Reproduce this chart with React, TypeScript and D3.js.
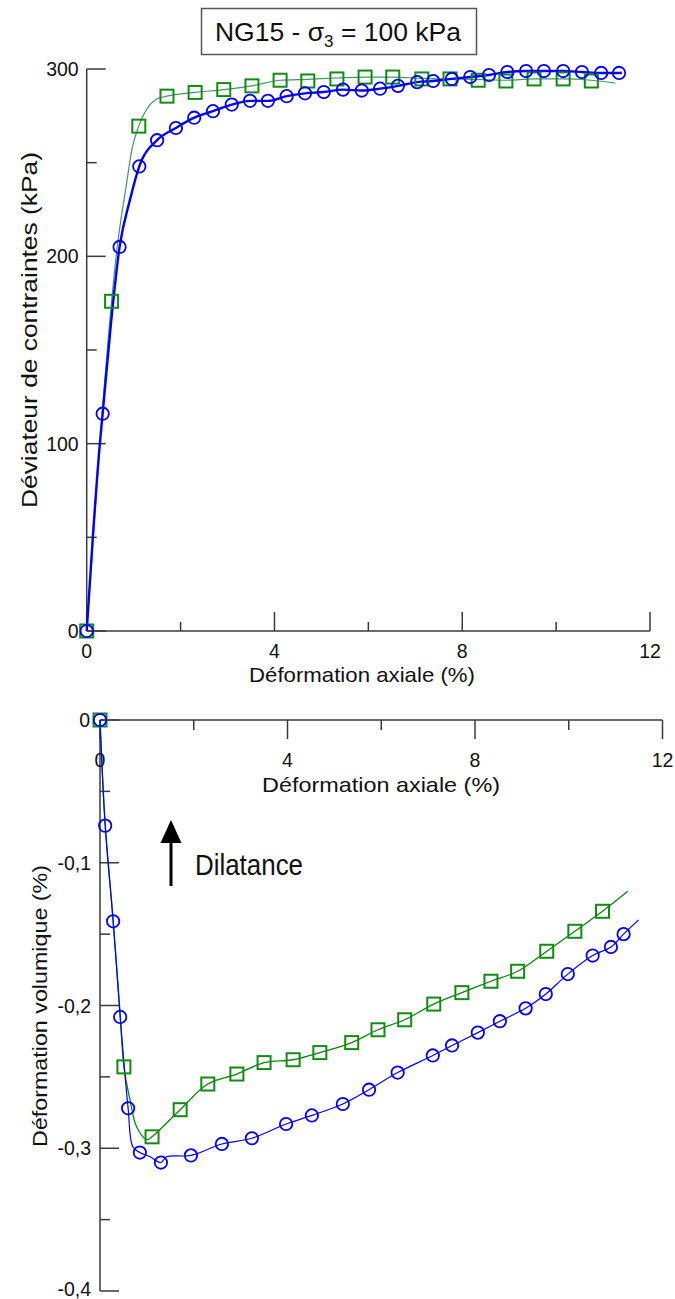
import React from "react";
import * as d3 from "d3";

// ---------- Top chart: deviator stress (kPa) vs axial strain (%) ----------
const topBlueMarkX = [0, 0.34, 0.70, 1.12, 1.50, 1.90, 2.29, 2.69, 3.09, 3.48, 3.86, 4.26, 4.65, 5.05, 5.46, 5.86, 6.25, 6.63, 7.04, 7.38, 7.78, 8.17, 8.57, 8.96, 9.36, 9.74, 10.15, 10.55, 10.96, 11.34];
const topBlueMarkY = [0, 116, 205, 248, 262, 268.5, 274, 277.5, 281, 283, 283, 285.5, 287, 287.7, 289, 288.5, 289.5, 291, 293, 293.6, 294.7, 295.7, 296.8, 298.4, 298.9, 298.9, 298.9, 298.4, 297.9, 297.9];
const topBlueLineX = [0, 0.13, 0.28, 0.34, 0.52, 0.70, 0.92, 1.12, 1.50, 1.90, 2.29, 2.69, 3.09, 3.48, 3.86, 4.26, 4.65, 5.05, 5.46, 5.86, 6.25, 6.63, 7.04, 7.38, 7.78, 8.17, 8.57, 8.96, 9.36, 9.74, 10.15, 10.55, 10.96, 11.34, 11.40];
const topBlueLineY = [0, 50, 100, 116, 165, 205, 230, 248, 262, 268.5, 274, 277.5, 281, 283, 283, 285.5, 287, 287.7, 289, 288.5, 289.5, 291, 293, 293.6, 294.7, 295.7, 296.8, 298.4, 298.9, 298.9, 298.9, 298.4, 297.9, 297.9, 298];

const topGreenMarkX = [0, 0.53, 1.11, 1.71, 2.31, 2.92, 3.52, 4.12, 4.71, 5.33, 5.93, 6.52, 7.14, 7.74, 8.34, 8.93, 9.53, 10.15, 10.75];
const topGreenMarkY = [0, 176, 269.5, 285.5, 287.5, 289, 291, 294, 293.6, 294.7, 295.7, 295.7, 294.7, 294.7, 294, 293.6, 294.7, 294.7, 293.6];
const topGreenLineX = [0, 0.28, 0.53, 0.64, 0.85, 0.96, 1.11, 1.34, 1.49, 1.71, 2.31, 2.92, 3.52, 4.12, 4.71, 5.33, 5.93, 6.52, 7.14, 7.74, 8.34, 8.93, 9.53, 10.15, 10.75, 11.26];
const topGreenLineY = [0, 100, 176, 203, 239, 256.7, 269.5, 280.7, 284, 285.5, 287.5, 289, 291, 294, 294.5, 295.2, 295.7, 295.7, 295, 294.7, 294.5, 294, 294.7, 294.7, 294, 292.5];

const topXTicks = [0, 4, 8, 12];
const topXMinor = [2, 6, 10];
const topYTicks = [0, 100, 200, 300];
const topYMinor = [50, 150, 250];

// ---------- Bottom chart: volumetric strain (%) vs axial strain (%) ----------
const botBlueMarkX = [0, 0.11, 0.28, 0.43, 0.60, 0.85, 1.30, 1.94, 2.60, 3.24, 3.97, 4.52, 5.18, 5.74, 6.35, 7.10, 7.51, 8.06, 8.53, 9.08, 9.51, 9.98, 10.51, 10.90, 11.17];
const botBlueMarkY = [0, -0.074, -0.141, -0.208, -0.272, -0.303, -0.310, -0.305, -0.297, -0.293, -0.283, -0.277, -0.269, -0.259, -0.247, -0.235, -0.228, -0.219, -0.211, -0.202, -0.192, -0.178, -0.165, -0.159, -0.150];
const botBlueLineX = [0, 0.11, 0.28, 0.43, 0.60, 0.70, 0.85, 1.07, 1.30, 1.42, 1.94, 2.60, 3.24, 3.97, 4.52, 5.18, 5.74, 6.35, 7.10, 7.51, 8.06, 8.53, 9.08, 9.51, 9.98, 10.51, 10.90, 11.17, 11.49];
const botBlueLineY = [0, -0.074, -0.141, -0.208, -0.272, -0.299, -0.303, -0.306, -0.310, -0.306, -0.305, -0.297, -0.293, -0.283, -0.277, -0.269, -0.259, -0.247, -0.235, -0.228, -0.219, -0.211, -0.202, -0.192, -0.178, -0.165, -0.159, -0.150, -0.140];

const botGreenMarkX = [0, 0.51, 1.11, 1.71, 2.30, 2.92, 3.50, 4.12, 4.69, 5.37, 5.93, 6.50, 7.12, 7.72, 8.34, 8.91, 9.53, 10.13, 10.72];
const botGreenMarkY = [0, -0.243, -0.292, -0.273, -0.255, -0.248, -0.240, -0.238, -0.233, -0.226, -0.217, -0.210, -0.199, -0.191, -0.183, -0.176, -0.162, -0.148, -0.134];
const botGreenLineX = [0, 0.11, 0.28, 0.43, 0.51, 0.64, 0.78, 1.0, 1.11, 1.71, 2.30, 2.92, 3.50, 4.12, 4.69, 5.37, 5.93, 6.50, 7.12, 7.72, 8.34, 8.91, 9.53, 10.13, 10.72, 11.26];
const botGreenLineY = [0, -0.072, -0.14, -0.206, -0.243, -0.266, -0.285, -0.294, -0.292, -0.273, -0.255, -0.248, -0.240, -0.238, -0.233, -0.226, -0.217, -0.210, -0.199, -0.191, -0.183, -0.176, -0.162, -0.148, -0.134, -0.120];

const botXTicks = [0, 4, 8, 12];
const botXMinor = [2, 6, 10];
const botYTicks = [0, -0.1, -0.2, -0.3, -0.4];
const botYMinor = [-0.05, -0.15, -0.25, -0.35];

const FONT = "'Liberation Sans', Arial, Helvetica, sans-serif";
const BLUE = "#0000ff";
const GREEN_MARK = "#138a13";
const GREEN_LINE_TOP = "#3b9a63";
const GREEN_LINE_BOT = "#0a870a";
const AXIS = "#3a3a3a";

const zip = (xs: number[], ys: number[]) => xs.map((x, i) => [x, ys[i]] as [number, number]);
const fmtFr = (v: number) => (v === 0 ? "0" : d3.format(".1f")(v).replace(".", ",").replace("−", "-"));

export default function App() {
  // top scales
  const tx = d3.scaleLinear().domain([0, 12]).range([86.7, 650]);
  const ty = d3.scaleLinear().domain([0, 300]).range([631, 69]);
  // bottom scales
  const bx = d3.scaleLinear().domain([0, 12]).range([100, 662.5]);
  const by = d3.scaleLinear().domain([0, -0.4]).range([720, 1291]);

  const topLine = d3.line<[number, number]>().x(d => tx(d[0])).y(d => ty(d[1])).curve(d3.curveMonotoneX);
  const botLine = d3.line<[number, number]>().x(d => bx(d[0])).y(d => by(d[1])).curve(d3.curveCatmullRom.alpha(0.5));

  const sq = 13;
  const r = 6.2;

  return (
    <svg width={675} height={1299} style={{ position: "absolute", left: 0, top: 0, background: "#fff" }} fontFamily={FONT}>
      <rect x={0} y={0} width={675} height={1299} fill="#fff" />
      {/* Title box */}
      <rect x={201.5} y={8.5} width={275} height={46} fill="#fff" stroke="#555" strokeWidth={1.5} />
      <text x={338} y={40.5} textAnchor="middle" fontSize={26.5} fill="#111">
        NG15 - σ<tspan fontSize={17} dy={6}>3</tspan><tspan dy={-6}> = 100 kPa</tspan>
      </text>

      {/* ===== TOP CHART ===== */}
      <g stroke={AXIS} strokeWidth={1.5} fill="none">
        <line x1={tx(0)} x2={tx(0)} y1={ty(300)} y2={ty(0)} />
        <line x1={tx(0)} x2={tx(12)} y1={ty(0)} y2={ty(0)} />
        {topYTicks.map(v => <line key={"ty" + v} x1={tx(0)} x2={tx(0) + 19} y1={ty(v)} y2={ty(v)} />)}
        {topYMinor.map(v => <line key={"tym" + v} x1={tx(0)} x2={tx(0) + 10} y1={ty(v)} y2={ty(v)} />)}
        {topXTicks.map(v => <line key={"tx" + v} x1={tx(v)} x2={tx(v)} y1={ty(0)} y2={ty(0) - 19} />)}
        {topXMinor.map(v => <line key={"txm" + v} x1={tx(v)} x2={tx(v)} y1={ty(0)} y2={ty(0) - 9} />)}
      </g>
      <g fontSize={19.5} fill="#111">
        {topYTicks.map(v => (
          <text key={"tyl" + v} x={tx(0) - 8} y={ty(v) + 7} textAnchor="end">{v}</text>
        ))}
        {topXTicks.map(v => (
          <text key={"txl" + v} x={tx(v)} y={658} textAnchor="middle">{v}</text>
        ))}
      </g>
      <text x={362} y={682} textAnchor="middle" fontSize={21} fill="#111" textLength={226} lengthAdjust="spacingAndGlyphs">Déformation axiale (%)</text>
      <text transform={`translate(37,330) rotate(-90)`} textAnchor="middle" fontSize={21.5} fill="#111" textLength={356} lengthAdjust="spacingAndGlyphs">Déviateur de contraintes (kPa)</text>

      <path d={topLine(zip(topGreenLineX, topGreenLineY)) || ""} fill="none" stroke={GREEN_LINE_TOP} strokeWidth={1.2} />
      <path d={topLine(zip(topBlueLineX, topBlueLineY)) || ""} fill="none" stroke={BLUE} strokeWidth={2.4} />
      {zip(topGreenMarkX, topGreenMarkY).map((d, i) => (
        <rect key={"tgm" + i} x={tx(d[0]) - sq / 2} y={ty(d[1]) - sq / 2} width={sq} height={sq} fill="none" stroke={GREEN_MARK} strokeWidth={2} />
      ))}
      {zip(topBlueMarkX, topBlueMarkY).map((d, i) => (
        <circle key={"tbm" + i} cx={tx(d[0])} cy={ty(d[1])} r={r} fill="none" stroke={BLUE} strokeWidth={1.8} />
      ))}

      {/* ===== BOTTOM CHART ===== */}
      <g stroke={AXIS} strokeWidth={1.5} fill="none">
        <line x1={bx(0)} x2={bx(0)} y1={by(0)} y2={by(-0.4)} />
        <line x1={bx(0)} x2={bx(12)} y1={by(0)} y2={by(0)} />
        {botYTicks.map(v => <line key={"by" + v} x1={bx(0)} x2={bx(0) + 19} y1={by(v)} y2={by(v)} />)}
        {botYMinor.map(v => <line key={"bym" + v} x1={bx(0)} x2={bx(0) + 10} y1={by(v)} y2={by(v)} />)}
        {botXTicks.map(v => <line key={"bx" + v} x1={bx(v)} x2={bx(v)} y1={by(0)} y2={by(0) + 19} />)}
        {botXMinor.map(v => <line key={"bxm" + v} x1={bx(v)} x2={bx(v)} y1={by(0)} y2={by(0) + 10} />)}
      </g>
      <g fontSize={19.5} fill="#111">
        {botYTicks.map(v => (
          <text key={"byl" + v} x={v === 0 ? 90 : 91} y={Math.min(by(v) + 7, 1296)} textAnchor="end">{fmtFr(v)}</text>
        ))}
        {botXTicks.map(v => (
          <text key={"bxl" + v} x={bx(v)} y={767} textAnchor="middle">{v}</text>
        ))}
      </g>
      <text x={381} y={792} textAnchor="middle" fontSize={21} fill="#111" textLength={238} lengthAdjust="spacingAndGlyphs">Déformation axiale (%)</text>
      <text transform={`translate(47,1006) rotate(-90)`} textAnchor="middle" fontSize={21} fill="#111" textLength={282} lengthAdjust="spacingAndGlyphs">Déformation volumique (%)</text>

      {/* Dilatance arrow */}
      <line x1={171} x2={171} y1={886} y2={840} stroke="#000" strokeWidth={3} />
      <path d="M160.5,843 L171,820 L181.5,843 Z" fill="#000" />
      <text x={195} y={875} fontSize={29} fill="#111" textLength={108} lengthAdjust="spacingAndGlyphs">Dilatance</text>

      <path d={botLine(zip(botGreenLineX, botGreenLineY)) || ""} fill="none" stroke={GREEN_LINE_BOT} strokeWidth={1.3} />
      <path d={botLine(zip(botBlueLineX, botBlueLineY)) || ""} fill="none" stroke={BLUE} strokeWidth={1.2} />
      {zip(botGreenMarkX, botGreenMarkY).map((d, i) => (
        <rect key={"bgm" + i} x={bx(d[0]) - sq / 2} y={by(d[1]) - sq / 2} width={sq} height={sq} fill="none" stroke={GREEN_MARK} strokeWidth={2} />
      ))}
      {zip(botBlueMarkX, botBlueMarkY).map((d, i) => (
        <circle key={"bbm" + i} cx={bx(d[0])} cy={by(d[1])} r={r} fill="none" stroke={BLUE} strokeWidth={1.8} />
      ))}
    </svg>
  );
}
